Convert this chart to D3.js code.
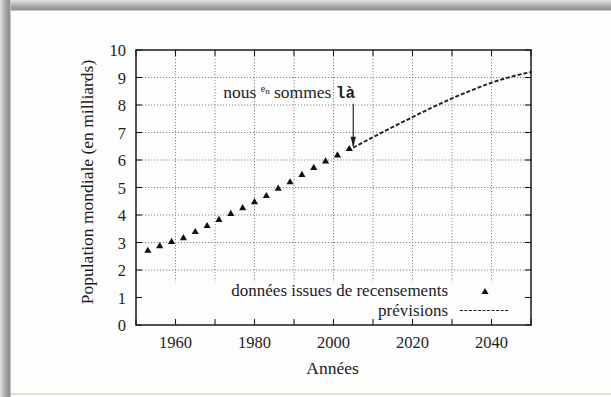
<!DOCTYPE html>
<html>
<head>
<meta charset="utf-8">
<script src="https://cdn.jsdelivr.net/npm/d3@7"></script>
<style>
  html, body { margin: 0; padding: 0; background: #fff; }
  svg { display: block; }
  text { font-family: "Liberation Serif", "Times New Roman", serif; fill: #1c1c1c; }
</style>
</head>
<body>
<svg id="chart" width="611" height="397"></svg>
<script>
// World population: census estimates and projections (billions)
const censusYears = [1953, 1956, 1959, 1962, 1965, 1968, 1971, 1974, 1977, 1980, 1983, 1986, 1989, 1992, 1995, 1998, 2001, 2004];
const censusPop   = [2.70, 2.87, 3.02, 3.16, 3.38, 3.60, 3.82, 4.04, 4.25, 4.47, 4.69, 4.96, 5.19, 5.46, 5.71, 5.95, 6.17, 6.40];

const forecastYears = [2005, 2010, 2015, 2020, 2025, 2030, 2035, 2040, 2045, 2050];
const forecastPop   = [6.45, 6.83, 7.20, 7.56, 7.91, 8.24, 8.54, 8.81, 9.03, 9.20];

const xTickYears  = [1950, 1960, 1970, 1980, 1990, 2000, 2010, 2020, 2030, 2040, 2050];
const xLabelYears = [1960, 1980, 2000, 2020, 2040];
const yTickValues = [0, 1, 2, 3, 4, 5, 6, 7, 8, 9, 10];

const xAxisTitle = "Années";
const yAxisTitle = "Population mondiale (en milliards)";
const legendCensus = "données issues de recensements";
const legendForecast = "prévisions";

// "nous en sommes là" annotation: text anchor and arrow (data coordinates)
const noteAnchor = { year: 1972.1, value: 8.27 };
const arrowFrom = { year: 2005, value: 8.05 };
const arrowTo   = { year: 2005, value: 6.45 };

const svg = d3.select("#chart");
const W = 611, H = 397;
const plot = { left: 136, right: 531, top: 50, bottom: 325 };

const x = d3.scaleLinear().domain([1950, 2050]).range([plot.left, plot.right]);
const y = d3.scaleLinear().domain([0, 10]).range([plot.bottom, plot.top]);

// ---- page background with soft scan shadow along top and left edges
const defs = svg.append("defs");
const gTop = defs.append("linearGradient").attr("id", "shadeTop")
  .attr("x1", 0).attr("y1", 0).attr("x2", 0).attr("y2", 1);
gTop.append("stop").attr("offset", "0%").attr("stop-color", "#e4e4e4");
gTop.append("stop").attr("offset", "55%").attr("stop-color", "#a9a9a9");
gTop.append("stop").attr("offset", "85%").attr("stop-color", "#8f8f8f");
gTop.append("stop").attr("offset", "100%").attr("stop-color", "#d6d6d6");
const gLeft = defs.append("linearGradient").attr("id", "shadeLeft")
  .attr("x1", 0).attr("y1", 0).attr("x2", 1).attr("y2", 0);
gLeft.append("stop").attr("offset", "0%").attr("stop-color", "#e2e2e2");
gLeft.append("stop").attr("offset", "55%").attr("stop-color", "#a4a4a4");
gLeft.append("stop").attr("offset", "85%").attr("stop-color", "#8c8c8c");
gLeft.append("stop").attr("offset", "100%").attr("stop-color", "#d8d8d8");

svg.append("rect").attr("width", W).attr("height", H).attr("fill", "#fdfdfd");
svg.append("rect").attr("x", 0).attr("y", 0).attr("width", W).attr("height", 11).attr("fill", "url(#shadeTop)");
svg.append("rect").attr("x", 0).attr("y", 0).attr("width", 11).attr("height", H).attr("fill", "url(#shadeLeft)");
svg.append("rect").attr("x", 11).attr("y", 393).attr("width", W - 11).attr("height", 2).attr("fill", "#eadfcc");

// ---- dotted grid
const grid = svg.append("g").attr("stroke", "#7a7a7a").attr("stroke-width", 0.9)
  .attr("stroke-dasharray", "1.2,1.8").attr("fill", "none");
grid.selectAll("line.v").data(xTickYears.slice(1, -1)).join("line")
  .attr("x1", d => x(d)).attr("x2", d => x(d))
  .attr("y1", plot.top).attr("y2", plot.bottom);
grid.selectAll("line.h").data(yTickValues.slice(1, -1)).join("line")
  .attr("x1", plot.left).attr("x2", plot.right)
  .attr("y1", d => y(d)).attr("y2", d => y(d));

// opaque legend area at the bottom of the plot
svg.append("rect")
  .attr("x", plot.left).attr("y", y(1.58))
  .attr("width", plot.right - plot.left).attr("height", plot.bottom - y(1.58))
  .attr("fill", "#fdfdfd");

// ---- forecast line
const line = d3.line().x(d => x(d[0])).y(d => y(d[1])).curve(d3.curveMonotoneX);
svg.append("path")
  .datum(d3.zip(forecastYears, forecastPop))
  .attr("d", line)
  .attr("fill", "none").attr("stroke", "#1e1e1e").attr("stroke-width", 1.9)
  .attr("stroke-dasharray", "4,2");

// ---- census markers
const tri = d3.symbol(d3.symbolTriangle, 22);
svg.append("g").selectAll("path").data(d3.zip(censusYears, censusPop)).join("path")
  .attr("d", tri)
  .attr("transform", d => `translate(${x(d[0])},${y(d[1])})`)
  .attr("fill", "#111");

// ---- frame, ticks (inward, mirrored)
const axes = svg.append("g").attr("stroke", "#1a1a1a");
axes.append("rect")
  .attr("x", plot.left).attr("y", plot.top)
  .attr("width", plot.right - plot.left).attr("height", plot.bottom - plot.top)
  .attr("fill", "none").attr("stroke-width", 1.5);
const tl = 6;
axes.selectAll("line.xb").data(xTickYears).join("line")
  .attr("x1", d => x(d)).attr("x2", d => x(d))
  .attr("y1", plot.bottom).attr("y2", plot.bottom - tl).attr("stroke-width", 1.1);
axes.selectAll("line.xt").data(xTickYears).join("line")
  .attr("x1", d => x(d)).attr("x2", d => x(d))
  .attr("y1", plot.top).attr("y2", plot.top + tl).attr("stroke-width", 1.1);
axes.selectAll("line.yl").data(yTickValues).join("line")
  .attr("x1", plot.left).attr("x2", plot.left + tl)
  .attr("y1", d => y(d)).attr("y2", d => y(d)).attr("stroke-width", 1.1);
axes.selectAll("line.yr").data(yTickValues).join("line")
  .attr("x1", plot.right).attr("x2", plot.right - tl)
  .attr("y1", d => y(d)).attr("y2", d => y(d)).attr("stroke-width", 1.1);

// ---- tick labels
svg.append("g").selectAll("text").data(yTickValues).join("text")
  .attr("x", plot.left - 10).attr("y", d => y(d) + 6)
  .attr("text-anchor", "end").attr("font-size", 16.5)
  .text(d => d);
svg.append("g").selectAll("text").data(xLabelYears).join("text")
  .attr("x", d => x(d)).attr("y", 348)
  .attr("text-anchor", "middle").attr("font-size", 16.5)
  .text(d => d);

// ---- axis titles
svg.append("text").attr("x", (plot.left + plot.right) / 2 - 1).attr("y", 374)
  .attr("text-anchor", "middle").attr("font-size", 17.5).text(xAxisTitle);
svg.append("text")
  .attr("transform", `translate(93,${182}) rotate(-90)`)
  .attr("text-anchor", "middle").attr("font-size", 17.5).text(yAxisTitle);

// ---- legend
const legRight = 448;
svg.append("text").attr("x", legRight).attr("y", 295.5).attr("text-anchor", "end")
  .attr("font-size", 17).text(legendCensus);
svg.append("path").attr("d", tri).attr("transform", `translate(485,292)`).attr("fill", "#111");
svg.append("text").attr("x", legRight).attr("y", 315.5).attr("text-anchor", "end")
  .attr("font-size", 17).text(legendForecast);
svg.append("line").attr("x1", 460).attr("x2", 508).attr("y1", 310.5).attr("y2", 310.5)
  .attr("stroke", "#222").attr("stroke-width", 1.2).attr("stroke-dasharray", "3,1.5");

// ---- annotation
const note = svg.append("text")
  .attr("x", x(noteAnchor.year)).attr("y", y(noteAnchor.value))
  .attr("font-size", 17.5);
note.append("tspan").text("nous ");
note.append("tspan").attr("font-size", 10).attr("dy", -6).text("e");
note.append("tspan").attr("font-size", 9).attr("dy", 2).text("n");
note.append("tspan").attr("dy", 4).text(" sommes ");
note.append("tspan").attr("font-family", "'Liberation Mono', 'Courier New', monospace")
  .attr("font-weight", "bold").attr("font-size", 16).text("là");

const ax = x(arrowFrom.year);
svg.append("line").attr("x1", ax).attr("x2", ax)
  .attr("y1", y(arrowFrom.value)).attr("y2", y(arrowTo.value) - 2)
  .attr("stroke", "#1a1a1a").attr("stroke-width", 1.1);
svg.append("path")
  .attr("d", `M${ax},${y(arrowTo.value)} L${ax - 2.6},${y(arrowTo.value) - 11} L${ax + 2.6},${y(arrowTo.value) - 11} Z`)
  .attr("fill", "#1a1a1a");
</script>
</body>
</html>
